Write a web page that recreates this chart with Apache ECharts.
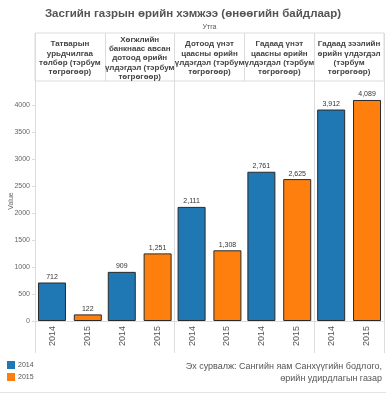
<!DOCTYPE html>
<html>
<head>
<meta charset="utf-8">
<script src="https://cdn.jsdelivr.net/npm/echarts@6/dist/echarts.min.js"></script>
<style>html,body{margin:0;padding:0;background:#fff;}#c{width:386px;height:394px;}</style>
</head>
<body>
<div id="c"></div>
<script>
const titleText = 'Засгийн газрын өрийн хэмжээ (өнөөгийн байдлаар)';
const headerName = 'Утга';
const categories = [
  'Татварын\nурьдчилгаа\nтөлбөр (тэрбум\nтөгрөгөөр)',
  'Хөгжлийн\nбанкнаас авсан\nдотоод өрийн\nүлдэгдэл (тэрбум\nтөгрөгөөр)',
  'Дотоод үнэт\nцаасны өрийн\nүлдэгдэл (тэрбум\nтөгрөгөөр)',
  'Гадаад үнэт\nцаасны өрийн\nүлдэгдэл (тэрбум\nтөгрөгөөр)',
  'Гадаад зээлийн\nөрийн үлдэгдэл\n(тэрбум\nтөгрөгөөр)'
];
const years = ['2014', '2015'];
const values2014 = [712, 909, 2111, 2761, 3912];
const values2015 = [122, 1251, 1308, 2625, 4089];
const yTicks = [0, 500, 1000, 1500, 2000, 2500, 3000, 3500, 4000];
const sourceLines = ['Эх сурвалж: Сангийн яам Санхүүгийн бодлого,', 'өрийн удирдлагын газар'];

const yearLabels = [];
categories.forEach(() => years.forEach(y => yearLabels.push(y)));

const FONT = '"Liberation Sans", Arial, sans-serif';
const LINE = '#dcdcdc';
const chart = echarts.init(document.getElementById('c'), null, {renderer: 'canvas'});

const gridL = 35, gridR = 2;
const srcStyle = {fontFamily: FONT, fontSize: 9, fontWeight: 'normal', color: '#555'};
const option = {
  backgroundColor: '#fff',
  animation: false,
  textStyle: {fontFamily: FONT},
  title: [
    {text: titleText, left: 'center', top: 8, padding: 0,
     textStyle: {fontFamily: FONT, fontSize: 11.5, fontWeight: 'bold', color: '#555'}},
    {text: sourceLines[0], right: 4, top: 362, padding: 0, textStyle: srcStyle},
    {text: sourceLines[1], right: 4, top: 374, padding: 0, textStyle: srcStyle}
  ],
  legend: {
    data: years, orient: 'vertical', left: 7, top: 361, padding: 0,
    itemWidth: 8, itemHeight: 8, itemGap: 4, icon: 'rect',
    itemStyle: {borderWidth: 0},
    textStyle: {fontFamily: FONT, fontSize: 7, color: '#555', padding: [0, 0, 0, -2]}
  },
  grid: [
    {left: gridL, right: gridR, top: 33, height: 48, show: true, borderColor: LINE, borderWidth: 1,
     backgroundColor: 'transparent', outerBoundsMode: 'none', containLabel: false},
    {left: gridL, right: gridR, top: 81, height: 240, outerBoundsMode: 'none', containLabel: false},
    {left: gridL, right: gridR, top: 321, height: 32, outerBoundsMode: 'none', containLabel: false}
  ],
  xAxis: [
    {gridIndex: 0, type: 'category', data: categories, position: 'top',
     name: headerName, nameLocation: 'middle', nameGap: 2, nameMoveOverlap: false,
     nameTextStyle: {fontFamily: FONT, fontSize: 7, color: '#555', verticalAlign: 'bottom'},
     axisLine: {show: false}, axisTick: {show: false},
     axisLabel: {inside: true, interval: 0, margin: 25, verticalAlign: 'middle', align: 'center',
       fontFamily: FONT, fontSize: 8, fontWeight: 'bold', lineHeight: 9.3, color: '#444'},
     splitLine: {show: true, lineStyle: {color: LINE, width: 1}}},
    {gridIndex: 1, type: 'category', data: categories, position: 'bottom',
     axisLine: {show: true, lineStyle: {color: LINE}}, axisTick: {show: false},
     axisLabel: {show: false},
     splitLine: {show: true, lineStyle: {color: LINE, width: 1}}},
    {gridIndex: 1, type: 'category', data: yearLabels, position: 'bottom',
     axisLine: {show: false}, axisTick: {show: false},
     axisLabel: {show: true, interval: 0, rotate: 90, margin: 5,
       fontFamily: FONT, fontSize: 9, color: '#555'},
     splitLine: {show: false}},
    {gridIndex: 2, type: 'category', data: categories, position: 'bottom',
     axisLine: {show: false}, axisTick: {show: false}, axisLabel: {show: false},
     splitLine: {show: true, lineStyle: {color: LINE, width: 1}}}
  ],
  yAxis: [
    {gridIndex: 0, type: 'value', min: 0, max: 1, show: false},
    {gridIndex: 1, type: 'value', min: yTicks[0], max: 4440, interval: 500,
     name: 'Value', nameLocation: 'middle', nameGap: 20, nameRotate: 90, nameMoveOverlap: false,
     nameTextStyle: {fontFamily: FONT, fontSize: 7, color: '#666'},
     axisLine: {show: false},
     axisTick: {show: true, length: 3, lineStyle: {color: LINE}},
     axisLabel: {fontFamily: FONT, fontSize: 7, color: '#666', margin: 5, showMaxLabel: false,
       formatter: v => (yTicks.indexOf(v) >= 0 ? String(v) : '')},
     splitLine: {show: false}},
    {gridIndex: 2, type: 'value', min: 0, max: 1, show: false}
  ],
  series: [
    {name: years[0], type: 'bar', xAxisIndex: 1, yAxisIndex: 1, data: values2014,
     barWidth: 28, barGap: '28%',
     itemStyle: {color: '#1f77b4', borderColor: '#2a2a2a', borderWidth: 1},
     label: {show: true, position: 'top', distance: 2, fontFamily: FONT, fontSize: 7, color: '#333',
       formatter: p => p.value.toLocaleString('en-US')}},
    {name: years[1], type: 'bar', xAxisIndex: 1, yAxisIndex: 1, data: values2015,
     barWidth: 28, barGap: '28%',
     itemStyle: {color: '#ff7f0e', borderColor: '#2a2a2a', borderWidth: 1},
     label: {show: true, position: 'top', distance: 2, fontFamily: FONT, fontSize: 7, color: '#333',
       formatter: p => p.value.toLocaleString('en-US')}}
  ],
  graphic: [
    {type: 'line', shape: {x1: 0, y1: 392.5, x2: 386, y2: 392.5}, style: {stroke: '#e4e4e4', lineWidth: 1}}
  ]
};
chart.setOption(option);
</script>
</body>
</html>
